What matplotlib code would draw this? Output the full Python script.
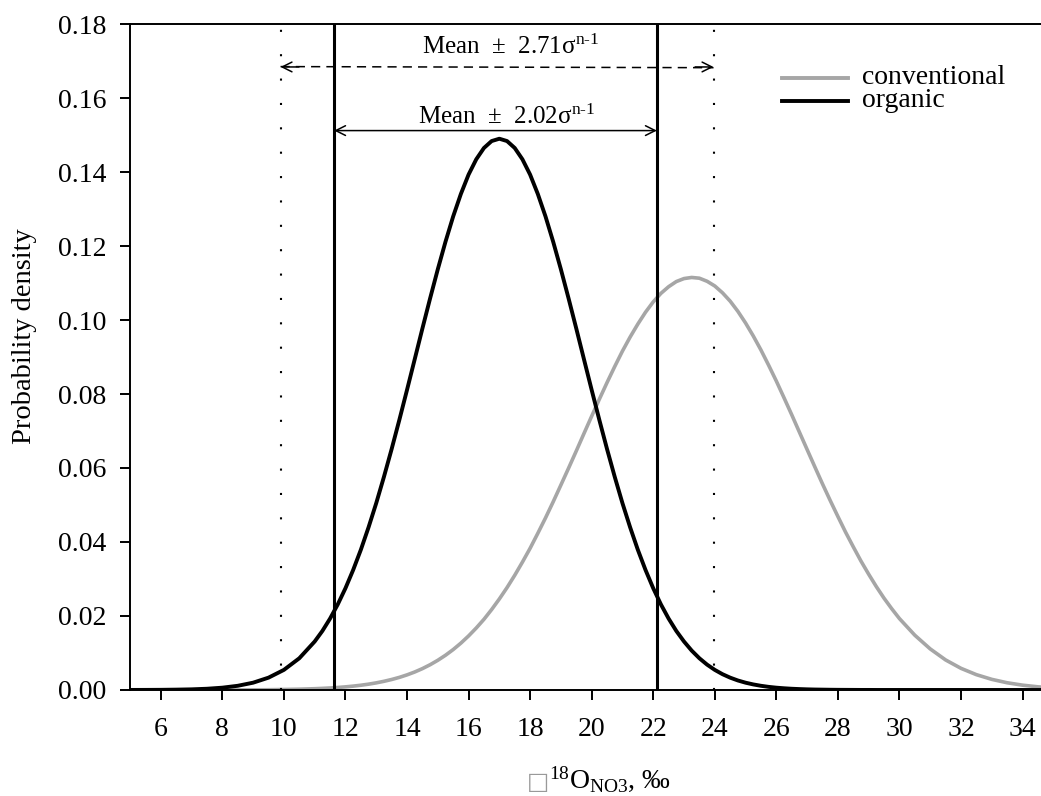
import numpy as np
import matplotlib
matplotlib.use('Agg')
import matplotlib.pyplot as plt

# density values: x step 0.5 in the tails, 0.25 in the middle
x_vals = np.concatenate([np.arange(5.0, 11.01, 0.5),
                         np.arange(11.25, 30.01, 0.25),
                         np.arange(30.5, 35.01, 0.5)])
organic = [0.00001, 0.00002, 0.00004, 0.00009, 0.00017, 0.00033, 0.00062, 0.00113,
           0.00197, 0.00333, 0.00543, 0.00857, 0.0131,
           0.01595, 0.0193, 0.02313, 0.0275, 0.03243, 0.0379, 0.04396, 0.0505,
           0.05760, 0.0651, 0.07297, 0.0811, 0.08938, 0.0977, 0.10583, 0.1137,
           0.12114, 0.1280, 0.13407, 0.1393, 0.14344, 0.1465, 0.14837, 0.1490,
           0.14837, 0.1465, 0.14344, 0.1393, 0.13407, 0.1280, 0.12114, 0.1137,
           0.10583, 0.0977, 0.08938, 0.0811, 0.07297, 0.0651, 0.05760, 0.0505,
           0.04396, 0.0379, 0.03243, 0.0275, 0.02313, 0.0193, 0.01595, 0.0131,
           0.01064, 0.00857, 0.00685, 0.00543, 0.00427, 0.00333, 0.00257, 0.00197,
           0.00150, 0.00113, 0.00084, 0.00062, 0.00046, 0.00033, 0.00024, 0.00017,
           0.00012, 0.00009, 0.00006, 0.00004, 0.00003, 0.00002, 0.00001, 0.00001,
           0, 0, 0, 0,
           0, 0, 0, 0, 0, 0, 0, 0, 0, 0]
conventional = [0, 0, 0, 0, 0, 0.00001, 0.00001, 0.00002, 0.00004, 0.00007, 0.00013,
                0.00021, 0.00034,
                0.00043, 0.00054, 0.00067, 0.00084, 0.00104, 0.00128, 0.00157, 0.00192,
                0.00234, 0.00283, 0.00340, 0.00408, 0.00486, 0.00577, 0.00682, 0.00802,
                0.00938, 0.01092, 0.01266, 0.0146, 0.01675, 0.0191, 0.02174, 0.0246,
                0.02767, 0.0310, 0.03456, 0.0383, 0.04234, 0.0465, 0.05087, 0.0554,
                0.05996, 0.0646, 0.06932, 0.0740, 0.07860, 0.0831, 0.08744, 0.0916,
                0.09540, 0.0989, 0.10211, 0.1049, 0.10720, 0.1090, 0.11039, 0.1112,
                0.11150, 0.1113, 0.11047, 0.1092, 0.10736, 0.1051, 0.10235, 0.0992,
                0.09570, 0.0919, 0.08778, 0.0835, 0.07898, 0.0744, 0.06969, 0.0650,
                0.06033, 0.0557, 0.05123, 0.0469, 0.04266, 0.0387, 0.03485, 0.0313,
                0.02793, 0.0248, 0.02196, 0.0193,
                0.0148, 0.0111, 0.00812, 0.00585, 0.00414, 0.00287, 0.00195, 0.00130,
                0.00085, 0.00055]

# interval limits (organic)
inner_lims = [11.63, 22.12]   # mean +- 2.02 sd
outer_lims = [9.89, 23.96]    # mean +- 2.71 sd
inner_label = 'Mean  $\\pm$  2.02σ$^{\\mathrm{n}\\text{-}\\mathrm{1}}$'
outer_label = 'Mean  $\\pm$  2.71σ$^{\\mathrm{n}\\text{-}\\mathrm{1}}$'

plt.rcParams['font.family'] = ['Liberation Serif', 'DejaVu Serif']
plt.rcParams['mathtext.fontset'] = 'custom'
plt.rcParams['mathtext.rm'] = 'Liberation Serif'
plt.rcParams['mathtext.it'] = 'Liberation Serif:italic'

fig = plt.figure(figsize=(10.41, 7.96), dpi=100)
ax = fig.add_axes([0.1249, 0.1332, 0.8751, 0.8366])

gray = '#a6a6a6'
ax.plot(x_vals, conventional, color=gray, lw=2.6)
ax.plot(x_vals, organic, color='black', lw=2.8)

for xv in inner_lims:
    ax.axvline(xv, color='black', lw=2.2)
for xv in outer_lims:
    ax.plot([xv, xv], [0, 0.18], color='black', lw=1.5, linestyle=(0, (1, 10.7)),
            dash_capstyle='butt', clip_on=False)

# solid arrow
ax.annotate('', xy=(inner_lims[0], 0.1512), xytext=(inner_lims[1], 0.1512),
            arrowprops=dict(arrowstyle='<->,head_length=0.7,head_width=0.35',
                            lw=1.1, color='black', shrinkA=0, shrinkB=0))
# dashed arrow
ax.plot(outer_lims, [0.1685, 0.1682], color='black', lw=1.1, linestyle=(0, (6, 4)))
for tip, side in [(outer_lims[0], 1), (outer_lims[1], -1)]:
    ax.annotate('', xy=(tip, 0.1684), xytext=(tip + side * 0.6, 0.1684),
                arrowprops=dict(arrowstyle='->,head_length=0.7,head_width=0.35',
                                lw=1.1, color='black', shrinkA=0, shrinkB=0))

ax.text(17.38, 0.1719, outer_label, ha='center', va='baseline', fontsize=18)
ax.text(17.25, 0.1530, inner_label, ha='center', va='baseline', fontsize=18)

ax.set_xlim(5, 34.6)
ax.set_ylim(0, 0.18)
ax.set_xticks(np.arange(6, 35, 2))
ax.set_yticks(np.arange(0, 0.181, 0.02))
ax.set_yticklabels(['%.2f' % v for v in np.arange(0, 0.181, 0.02)])
ax.tick_params(direction='out', length=7.2, width=1.4, labelsize=20)
ax.tick_params(axis='x', pad=12)
ax.tick_params(axis='y', pad=10)
for s in ['left', 'bottom', 'top']:
    ax.spines[s].set_linewidth(1.4)
ax.spines['right'].set_visible(False)

# legend drawn by hand (tight row spacing)
for yy, col, lab in [(77.7, gray, 'conventional'), (100.7, 'black', 'organic')]:
    fy = 1 - yy / 796
    fig.add_artist(plt.Line2D([782 / 1041, 848 / 1041], [fy, fy], color=col, lw=2.8,
                              transform=fig.transFigure))
    fig.text(862 / 1041, fy, lab, fontsize=20, va='center', ha='left')

fig.text(25 / 1041, 1 - 336 / 796, 'Probability density', rotation=90,
         ha='center', va='center', fontsize=20.5)
fig.text(527 / 1041, 1 - 789 / 796, '□', family='DejaVu Sans', color='#999999',
         fontsize=17, va='baseline', ha='left')
fig.text(549 / 1041, 1 - 788 / 796, '$^{18}$O$_{\\mathrm{NO3}}$, ‰', fontsize=20,
         va='baseline', ha='left')

fig.savefig('out.png', dpi=100)
